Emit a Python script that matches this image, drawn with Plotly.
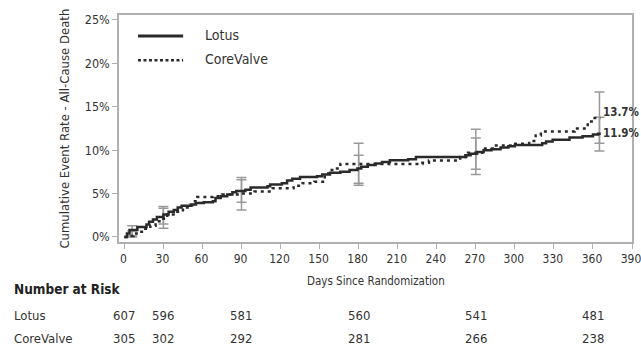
import plotly.graph_objects as go

# ---- data ----
lotus_days = [0, 2, 4, 10, 17, 19, 22, 25, 30, 34, 38, 41, 44, 51, 55, 61, 68, 70, 74, 79, 83, 86,
              93, 97, 110, 112, 121, 125, 129, 135, 148, 152, 158, 166, 173, 179, 182, 187, 193,
              198, 204, 218, 224, 262, 266, 271, 276, 282, 289, 295, 300, 321, 324, 329, 342,
              352, 360, 364, 366]
lotus_rate = [0, 0.4, 0.8, 1.15, 1.45, 1.75, 2.0, 2.3, 2.6, 2.9, 3.1, 3.4, 3.6, 3.75, 3.9, 4.0, 4.1,
              4.5, 4.7, 4.9, 5.15, 5.3, 5.45, 5.7, 5.85, 6.05, 6.2, 6.5, 6.7, 6.9, 7.0, 7.2, 7.4,
              7.5, 7.7, 7.9, 8.1, 8.3, 8.45, 8.65, 8.85, 8.95, 9.2, 9.4, 9.6, 9.8, 10.0, 10.1,
              10.3, 10.45, 10.6, 10.8, 11.0, 11.2, 11.45, 11.6, 11.8, 11.9, 11.9]

core_days = [0, 4, 7, 11, 15, 20, 24, 27, 33, 39, 45, 52, 56, 68, 75, 88, 100, 114, 130, 137, 146,
             154, 157, 162, 166, 229, 234, 258, 264, 275, 283, 298, 311, 316, 320, 346, 356, 359, 366]
core_rate = [0, 0.1, 0.4, 0.6, 0.95, 1.3, 1.8, 2.1, 2.6, 2.9, 3.4, 4.1, 4.6, 4.7, 4.9, 5.0, 5.25,
             5.6, 5.9, 6.2, 6.35, 7.3, 7.7, 7.9, 8.4, 8.55, 8.8, 9.2, 9.7, 10.2, 10.55, 10.75,
             11.05, 11.7, 12.15, 12.5, 13.3, 13.7, 13.7]

ci_days = [6, 30, 90, 180, 270, 365]
lotus_ci_est = [0.8, 2.6, 5.3, 7.9, 9.8, 11.9]
lotus_ci_low = [0.15, 1.5, 4.0, 6.2, 7.8, 10.8]
lotus_ci_high = [1.3, 3.5, 6.85, 9.4, 11.4, 13.8]
core_ci_est = [0.4, 2.1, 5.0, 8.4, 9.7, 13.7]
core_ci_low = [0.0, 1.0, 3.1, 5.95, 7.2, 9.9]
core_ci_high = [0.7, 3.3, 6.6, 10.8, 12.4, 16.7]

end_labels = ["13.7%", "11.9%"]

risk_days = [0, 30, 90, 180, 270, 360]
lotus_risk = [607, 596, 581, 560, 541, 481]
core_risk = [305, 302, 292, 281, 266, 238]

x_ticks = list(range(0, 391, 30))
y_ticks = [0, 5, 10, 15, 20, 25]
y_tick_text = [f"{v}%" for v in y_ticks]

FONT = "DejaVu Sans Condensed, Liberation Sans Narrow, Arial Narrow, sans-serif"
TXT = "#333333"
GRAY = "#9a9a9a"

fig = go.Figure()

# error bars (behind lines)
for est, lo, hi in [(lotus_ci_est, lotus_ci_low, lotus_ci_high), (core_ci_est, core_ci_low, core_ci_high)]:
    fig.add_trace(go.Scatter(
        x=ci_days, y=est, mode="markers", marker=dict(size=1, color="rgba(0,0,0,0)"),
        error_y=dict(type="data", symmetric=False,
                     array=[h - e for h, e in zip(hi, est)],
                     arrayminus=[e - l for e, l in zip(est, lo)],
                     color=GRAY, thickness=1.5, width=5),
        showlegend=False, hoverinfo="skip"))

fig.add_trace(go.Scatter(x=core_days, y=core_rate, mode="lines", line_shape="hv",
                         line=dict(color="#2a2a2a", width=2.5, dash="3px,4px"),
                         name="CoreValve", showlegend=False))
fig.add_trace(go.Scatter(x=lotus_days, y=lotus_rate, mode="lines", line_shape="hv",
                         line=dict(color="#2a2a2a", width=2.5),
                         name="Lotus", showlegend=False))

# legend (drawn manually)
fig.add_shape(type="line", xref="paper", yref="paper", x0=0.037, x1=0.125, y0=0.907, y1=0.907,
              line=dict(color="#2a2a2a", width=3))
fig.add_shape(type="line", xref="paper", yref="paper", x0=0.037, x1=0.125, y0=0.801, y1=0.801,
              line=dict(color="#2a2a2a", width=2.5, dash="3px,2.5px"))
for name, yy in [("Lotus", 0.912), ("CoreValve", 0.806)]:
    fig.add_annotation(text=name, xref="paper", yref="paper", x=0.164, y=yy, xanchor="left",
                       yanchor="middle", showarrow=False, font=dict(family=FONT, size=14, color=TXT))

# end labels
fig.add_annotation(text="<b>" + end_labels[0] + "</b>", xref="x", yref="y", x=366.5, y=14.35,
                   xanchor="left", yanchor="middle", showarrow=False,
                   font=dict(family=FONT, size=11.5, color=TXT))
fig.add_annotation(text="<b>" + end_labels[1] + "</b>", xref="x", yref="y", x=366.5, y=12.0,
                   xanchor="left", yanchor="middle", showarrow=False,
                   font=dict(family=FONT, size=11.5, color=TXT))

# y title
fig.add_annotation(text="Cumulative Event Rate - All-Cause Death", xref="paper", yref="paper",
                   x=-0.107, y=0.5, textangle=-90, showarrow=False, xanchor="center", yanchor="middle",
                   font=dict(family=FONT, size=13, color=TXT))
# x title
fig.add_annotation(text="Days Since Randomization", xref="paper", yref="paper", x=0.5, y=-0.173,
                   showarrow=False, xanchor="center", yanchor="middle",
                   font=dict(family=FONT, size=11.5, color=TXT))

# number at risk table
fig.add_annotation(text="<b>Number at Risk</b>", xref="paper", yref="paper", x=-0.209, y=-0.206,
                   xanchor="left", yanchor="middle", showarrow=False,
                   font=dict(family=FONT, size=13.5, color="#222222"))
for label, vals, yy in [("Lotus", lotus_risk, -0.323), ("CoreValve", core_risk, -0.423)]:
    fig.add_annotation(text=label, xref="paper", yref="paper", x=-0.209, y=yy, xanchor="left",
                       yanchor="middle", showarrow=False, font=dict(family=FONT, size=13, color=TXT))
    for d, v in zip(risk_days, vals):
        fig.add_annotation(text=str(v), xref="x", yref="paper", x=d, y=yy, xanchor="center",
                           yanchor="middle", showarrow=False,
                           font=dict(family=FONT, size=13, color=TXT))

fig.update_xaxes(range=[-4.1, 390], tickvals=x_ticks, showline=True, mirror=True,
                 linecolor="#b0b0b0", linewidth=1.5, ticks="outside", ticklen=5, tickcolor="#b0b0b0",
                 showgrid=False, zeroline=False, ticklabeloverflow="allow", ticklabelshift=-1,
                 tickfont=dict(family=FONT, size=12, color=TXT))
fig.update_yaxes(range=[-0.58, 25.57], tickvals=y_ticks, ticktext=y_tick_text, showline=True, mirror=True,
                 linecolor="#b0b0b0", linewidth=1.5, ticks="outside", ticklen=5, tickcolor="#b0b0b0",
                 showgrid=False, zeroline=False,
                 tickfont=dict(family=FONT, size=12.5, color=TXT))

fig.update_layout(width=641, height=347, margin=dict(l=119, r=9, t=15, b=105, autoexpand=False),
                  plot_bgcolor="white", paper_bgcolor="white", showlegend=False)

fig.write_html("out.html", config={"displayModeBar": False},
               post_script="document.body.style.margin='0px';")
